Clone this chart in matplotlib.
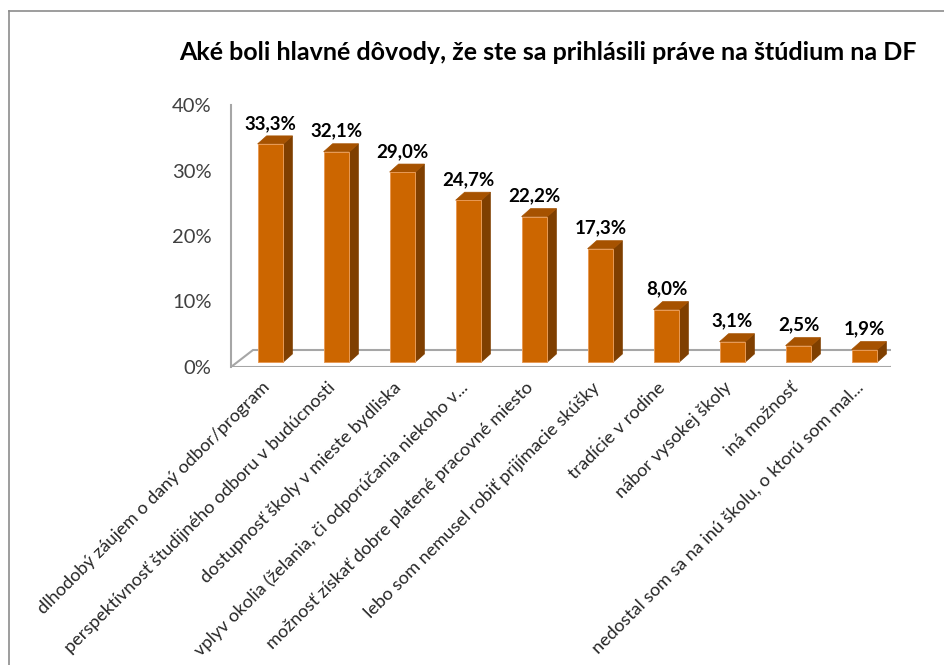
import matplotlib
matplotlib.use("Agg")
import matplotlib.pyplot as plt
import matplotlib.transforms as mtransforms
from matplotlib.patches import Polygon
import numpy as np

plt.rcParams['font.family'] = ['Lato', 'DejaVu Sans']

title = "Aké boli hlavné dôvody, že ste sa prihlásili práve na štúdium na DF"
categories = [
    "dlhodobý záujem o daný odbor/program",
    "perspektívnosť študijného odboru v budúcnosti",
    "dostupnosť školy v mieste bydliska",
    "vplyv okolia (želania, či odporúčania niekoho v...",
    "možnosť získať dobre platené pracovné miesto",
    "lebo som nemusel robiť prijímacie skúšky",
    "tradície v rodine",
    "nábor vysokej školy",
    "iná možnosť",
    "nedostal som sa na inú školu, o ktorú som mal...",
]
values = [33.3, 32.1, 29.0, 24.7, 22.2, 17.3, 8.0, 3.1, 2.5, 1.9]
value_labels = ["33,3%", "32,1%", "29,0%", "24,7%", "22,2%", "17,3%", "8,0%", "3,1%", "2,5%", "1,9%"]
yticks = [0, 10, 20, 30, 40]
ytick_labels = ["0%", "10%", "20%", "30%", "40%"]

W, H = 944, 665
fig = plt.figure(figsize=(W / 100, H / 100), dpi=100)
fig.patch.set_facecolor("white")

# chart border (top and left visible)
fig.add_artist(plt.Line2D([9 / W, 9 / W], [0, 1 - 11 / H], transform=fig.transFigure, color="#8c8c8c", lw=1.2))
fig.add_artist(plt.Line2D([9 / W, 1], [1 - 11 / H, 1 - 11 / H], transform=fig.transFigure, color="#8c8c8c", lw=1.2))

ax = fig.add_axes([231 / W, (H - 367) / H, 660 / W, 262 / H])
ax.set_xlim(-0.5, len(values) - 0.5)
ax.set_ylim(0, 40)
for s in ["top", "right", "bottom"]:
    ax.spines[s].set_visible(False)
ax.spines["left"].set_color("#a6a6a6")
ax.spines["left"].set_linewidth(1.5)
ax.set_yticks(yticks)
ax.set_yticklabels(ytick_labels, fontsize=14.5, color="#404040")
ax.tick_params(axis="y", length=0, pad=14)
ax.set_xticks([])
ax.patch.set_alpha(0)

fig.canvas.draw()

# floor (depth offset in pixels)
fdx, fdy = 22, 17
p0 = ax.transData.transform((-0.5, 0))
p1 = ax.transData.transform((len(values) - 0.5, 0))
floor = Polygon([p0, p1, p1 + [fdx, fdy], p0 + [fdx, fdy]], closed=True,
                facecolor="white", edgecolor="#a6a6a6", lw=1.5, transform=None, zorder=1)
ax.add_artist(floor)

# bars
bdx, bdy = 6.5, 5          # bar placement within floor depth
sdx, sdy = 9, 8            # bar depth
front_c = "#cc6600"
side_c = "#7f3f00"
top_c = "#a65200"
width = 0.39
x = np.arange(len(values))
off = mtransforms.offset_copy(ax.transData, fig=fig, x=bdx, y=bdy, units="dots")
bars = ax.bar(x, values, width=width, color=front_c, edgecolor="#e89a55", linewidth=0.7,
              transform=off, zorder=3)
for b in bars:
    xl, yb = off.transform((b.get_x(), 0))
    xr, yt = off.transform((b.get_x() + b.get_width(), b.get_height()))
    side = Polygon([(xr, yb), (xr, yt), (xr + sdx, yt + sdy), (xr + sdx, yb + sdy)],
                   closed=True, facecolor=side_c, edgecolor=side_c, lw=0.5, transform=None, zorder=2)
    top = Polygon([(xl, yt), (xr, yt), (xr + sdx, yt + sdy), (xl + sdx, yt + sdy)],
                  closed=True, facecolor=top_c, edgecolor=top_c, lw=0.5, transform=None, zorder=2)
    ax.add_artist(side)
    ax.add_artist(top)

# value labels
lab_off = mtransforms.offset_copy(ax.transData, fig=fig, x=bdx, y=bdy + 15, units="dots")
for xi, v, t in zip(x, values, value_labels):
    ax.text(xi, v, t, transform=lab_off, ha="center", va="baseline",
            fontsize=13.5, fontweight="bold", color="black", zorder=5)

# category labels
cat_off = mtransforms.offset_copy(ax.transData, fig=fig, x=3, y=-18, units="dots")
for xi, c in zip(x, categories):
    ax.text(xi, 0, c, transform=cat_off, rotation=45, rotation_mode="anchor",
            ha="right", va="center", fontsize=13.1, color="#262626", clip_on=False)

fig.text(548 / W, 1 - 52 / H, title, ha="center", va="center", fontsize=18,
         fontweight="bold", color="black")

fig.savefig("out.png", dpi=100)
